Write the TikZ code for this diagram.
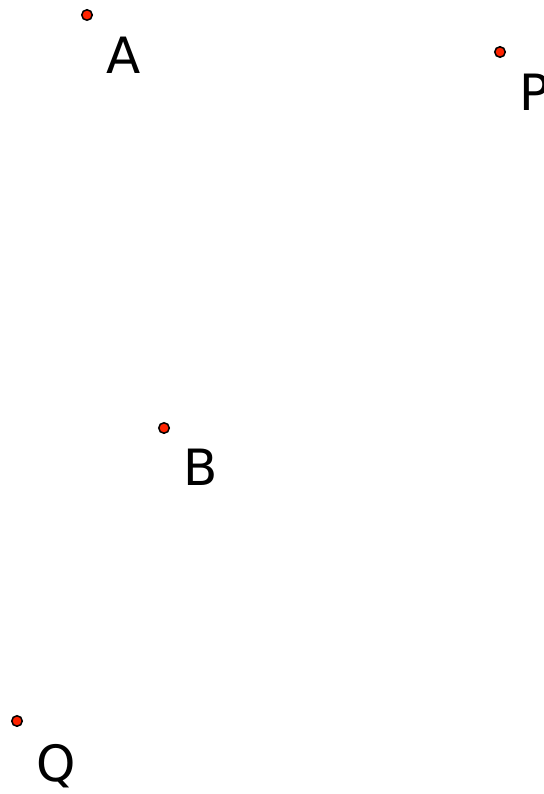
\documentclass[tikz,border=0pt]{standalone}
\usepackage{fontspec}
\setmainfont{DejaVu Sans}
\usepackage{tikz}
\usetikzlibrary{positioning}
\definecolor{ptred}{RGB}{255,35,0}

\begin{document}
\begin{tikzpicture}[x=1pt, y=-1pt]
    \tikzstyle{pt} = [circle, fill=ptred, draw=black, line width=1.5pt,
                      minimum size=10.5pt, inner sep=0pt]
    \tikzstyle{lbl} = [anchor=base west, inner sep=0pt,
                       font=\fontsize{50}{58}\selectfont]

    \useasboundingbox (0,0) rectangle (543,794);

    \node (A) [pt] at (87,15) {};
    \node (P) [pt] at (500,52) {};
    \node (B) [pt] at (164,428) {};
    \node (Q) [pt] at (17,721) {};

    \node (labA) [lbl] at ([shift={(19,59)}]A.center) {A};
    \node (labP) [lbl] at ([shift={(19,59)}]P.center) {P};
    \node (labB) [lbl] at ([shift={(19,57)}]B.center) {B};
    \node (labQ) [lbl] at ([shift={(19,60)}]Q.center) {Q};
  \end{tikzpicture}
\end{document}
